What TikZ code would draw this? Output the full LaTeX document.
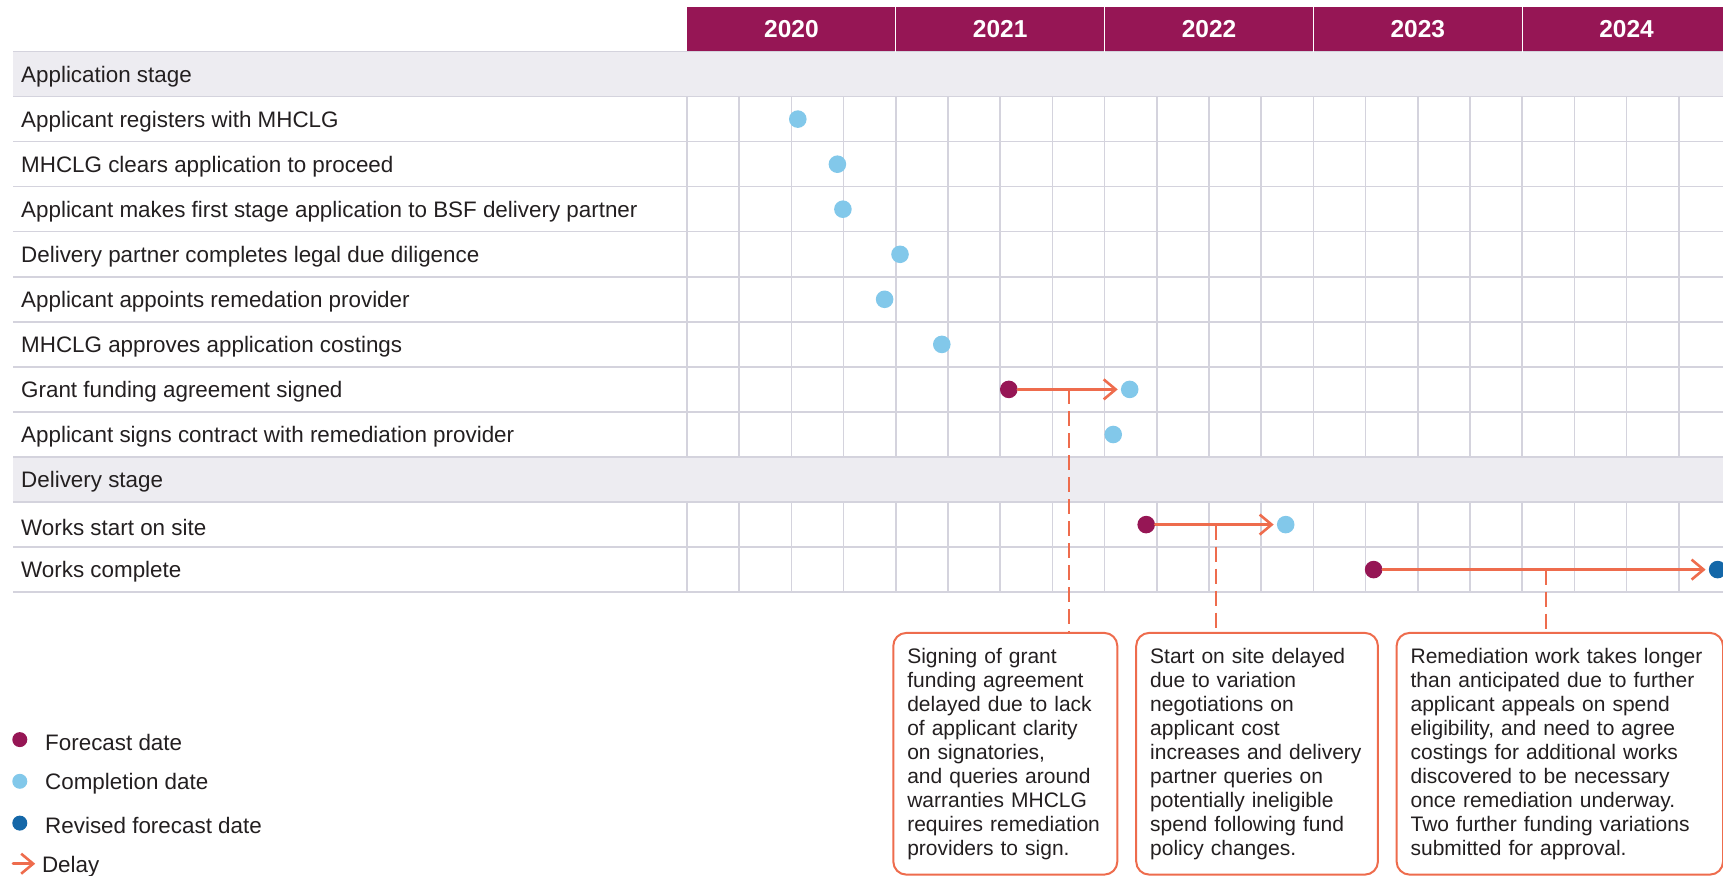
\documentclass[tikz,border=0pt]{standalone}
\usepackage{fontspec}
\setmainfont{Liberation Sans}
\usetikzlibrary{arrows.meta,calc}
\definecolor{plum}{HTML}{961655}
\definecolor{sky}{HTML}{82C8EA}
\definecolor{navy}{HTML}{1467A8}
\definecolor{coral}{HTML}{EE6C4D}
\definecolor{bandgray}{HTML}{EDECF1}
\definecolor{rule}{HTML}{D4D3DD}
\definecolor{ink}{HTML}{231F20}
\begin{document}
\begin{tikzpicture}[x=1pt,y=-1pt, line join=round, line cap=round,
    rowtext/.style={anchor=west, text=ink, inner sep=0, yshift=-2.5pt, font=\fontsize{22.4}{26}\selectfont},
    year/.style={text=white, font=\fontsize{24.5}{28}\selectfont\bfseries},
    gridline/.style={draw=rule, line width=1.5, line cap=butt},
    dot/.style={circle, inner sep=0, minimum size=17.6},
    done/.style={dot, fill=sky},
    fcast/.style={dot, fill=plum},
    revised/.style={dot, fill=navy},
    delay/.style={draw=coral, line width=2.6, -{Straight Barb[length=12pt,width=20pt]}, shorten >=3pt},
    lead/.style={draw=coral, line width=2.2, line cap=butt, dash pattern=on 15pt off 7pt},
    note/.style={draw=coral, line width=2, rounded corners=13pt, anchor=north west, align=left,
      text=ink, inner xsep=14, minimum height=241.7, font=\fontsize{21}{24}\selectfont}]
    \def\xo{687} \def\qw{52.2} \def\yo{51.5} \def\rh{45.06}
    \useasboundingbox (0,0) rectangle (1723,875);
    \fill[bandgray] (13,\yo) rectangle (1723,{\yo+\rh});
    \fill[bandgray] (13,{\yo+9*\rh}) rectangle (1723,{\yo+10*\rh});
    \foreach \k in {0,...,19} {
        \draw[gridline] ({\xo+\qw*\k},{\yo+\rh}) -- ({\xo+\qw*\k},{\yo+9*\rh});
        \draw[gridline] ({\xo+\qw*\k},{\yo+10*\rh}) -- ({\xo+\qw*\k},{\yo+12*\rh});
    }
    \foreach \r in {0,...,12}
        \draw[gridline] (13,{\yo+\rh*\r}) -- (1723,{\yo+\rh*\r});
    \fill[plum] (\xo,6.6) rectangle (1723,\yo);
    \foreach \k in {1,...,4}
        \draw[white, line width=1.2] ({\xo+4*\qw*\k},6.6) -- ({\xo+4*\qw*\k},\yo);
    \foreach \n/\yr in {0/2020,1/2021,2/2022,3/2023,4/2024}
        \node[year] (y\n) at ({\xo+\qw*(4*\n+2)},29) {\yr};
    \node[rowtext] (s1) at (21,{\yo+\rh*0.5}) {Application stage};
    \node[rowtext] (s2) at (21,{\yo+\rh*9.5}) {Delivery stage};
    \foreach \r/\t in {1/{Applicant registers with MHCLG},
        2/{MHCLG clears application to proceed},
        3/{Applicant makes first stage application to BSF delivery partner},
        4/{Delivery partner completes legal due diligence},
        5/{Applicant appoints remedation provider},
        6/{MHCLG approves application costings},
        7/{Grant funding agreement signed},
        8/{Applicant signs contract with remediation provider},
        10/{Works start on site},
        11/{Works complete}}
        \node[rowtext] (t\r) at (21,{\yo+\rh*(\r+0.5)}) {\t};
    \node[done] (c1) at (797.8,119.1) {};
    \node[done] (c2) at (837.4,164.2) {};
    \node[done] (c3) at (842.9,209.2) {};
    \node[done] (c4) at (900.0,254.3) {};
    \node[done] (c5) at (884.6,299.3) {};
    \node[done] (c6) at (941.8,344.4) {};
    \node[fcast] (f7) at (1008.8,389.4) {};
    \node[done] (c7) at (1129.7,389.4) {};
    \node[done] (c8) at (1113.2,434.5) {};
    \node[fcast] (f10) at (1146.2,524.6) {};
    \node[done] (c10) at (1285.7,524.6) {};
    \node[fcast] (f11) at (1373.6,569.6) {};
    \node[revised] (c11) at (1717.6,569.6) {};
    \draw[delay] (f7) -- (c7);
    \draw[delay] (f10) -- (c10);
    \draw[delay] (f11) -- (c11);
    \coordinate (m7) at ($(f7)!0.5!(c7)$);
    \coordinate (m10) at ($(f10)!0.5!(c10)$);
    \coordinate (m11) at ($(f11)!0.5!(c11)$);
    \node[note, text width=196] (n1) at (892.3,631.9) {Signing of grant\\funding agreement\\delayed due to lack\\of applicant clarity\\on signatories,\\and queries around\\warranties MHCLG\\requires remediation\\providers to sign.};
    \node[note, text width=213.7] (n2) at (1135.2,631.9) {Start on site delayed\\due to variation\\negotiations on\\applicant cost\\increases and delivery\\partner queries on\\potentially ineligible\\spend following fund\\policy changes.};
    \node[note, text width=298.4] (n3) at (1395.6,631.9) {Remediation work takes longer\\than anticipated due to further\\applicant appeals on spend\\eligibility, and need to agree\\costings for additional works\\discovered to be necessary\\once remediation underway.\\Two further funding variations\\submitted for approval.};
    \draw[lead] (m7) -- (m7 |- n1.north);
    \draw[lead] (m10) -- (m10 |- n2.north);
    \draw[lead] (m11) -- (m11 |- n3.north);
    \node[fcast, minimum size=15] (k1) at (19.8,739.6) {};
    \node[rowtext] (k1t) at (45,739.6) {Forecast date};
    \node[done, minimum size=15] (k2) at (19.8,781.3) {};
    \node[rowtext] (k2t) at (45,781.3) {Completion date};
    \node[revised, minimum size=15] (k3) at (19.8,823.1) {};
    \node[rowtext] (k3t) at (45,823.1) {Revised forecast date};
    \coordinate (d0) at (13,863.7);
    \coordinate (d1) at (35.2,863.7);
    \draw[delay, shorten >=0pt] (d0) -- (d1);
    \node[rowtext] (kd) at (41.8,863.7) {Delay};
\end{tikzpicture}
\end{document}
